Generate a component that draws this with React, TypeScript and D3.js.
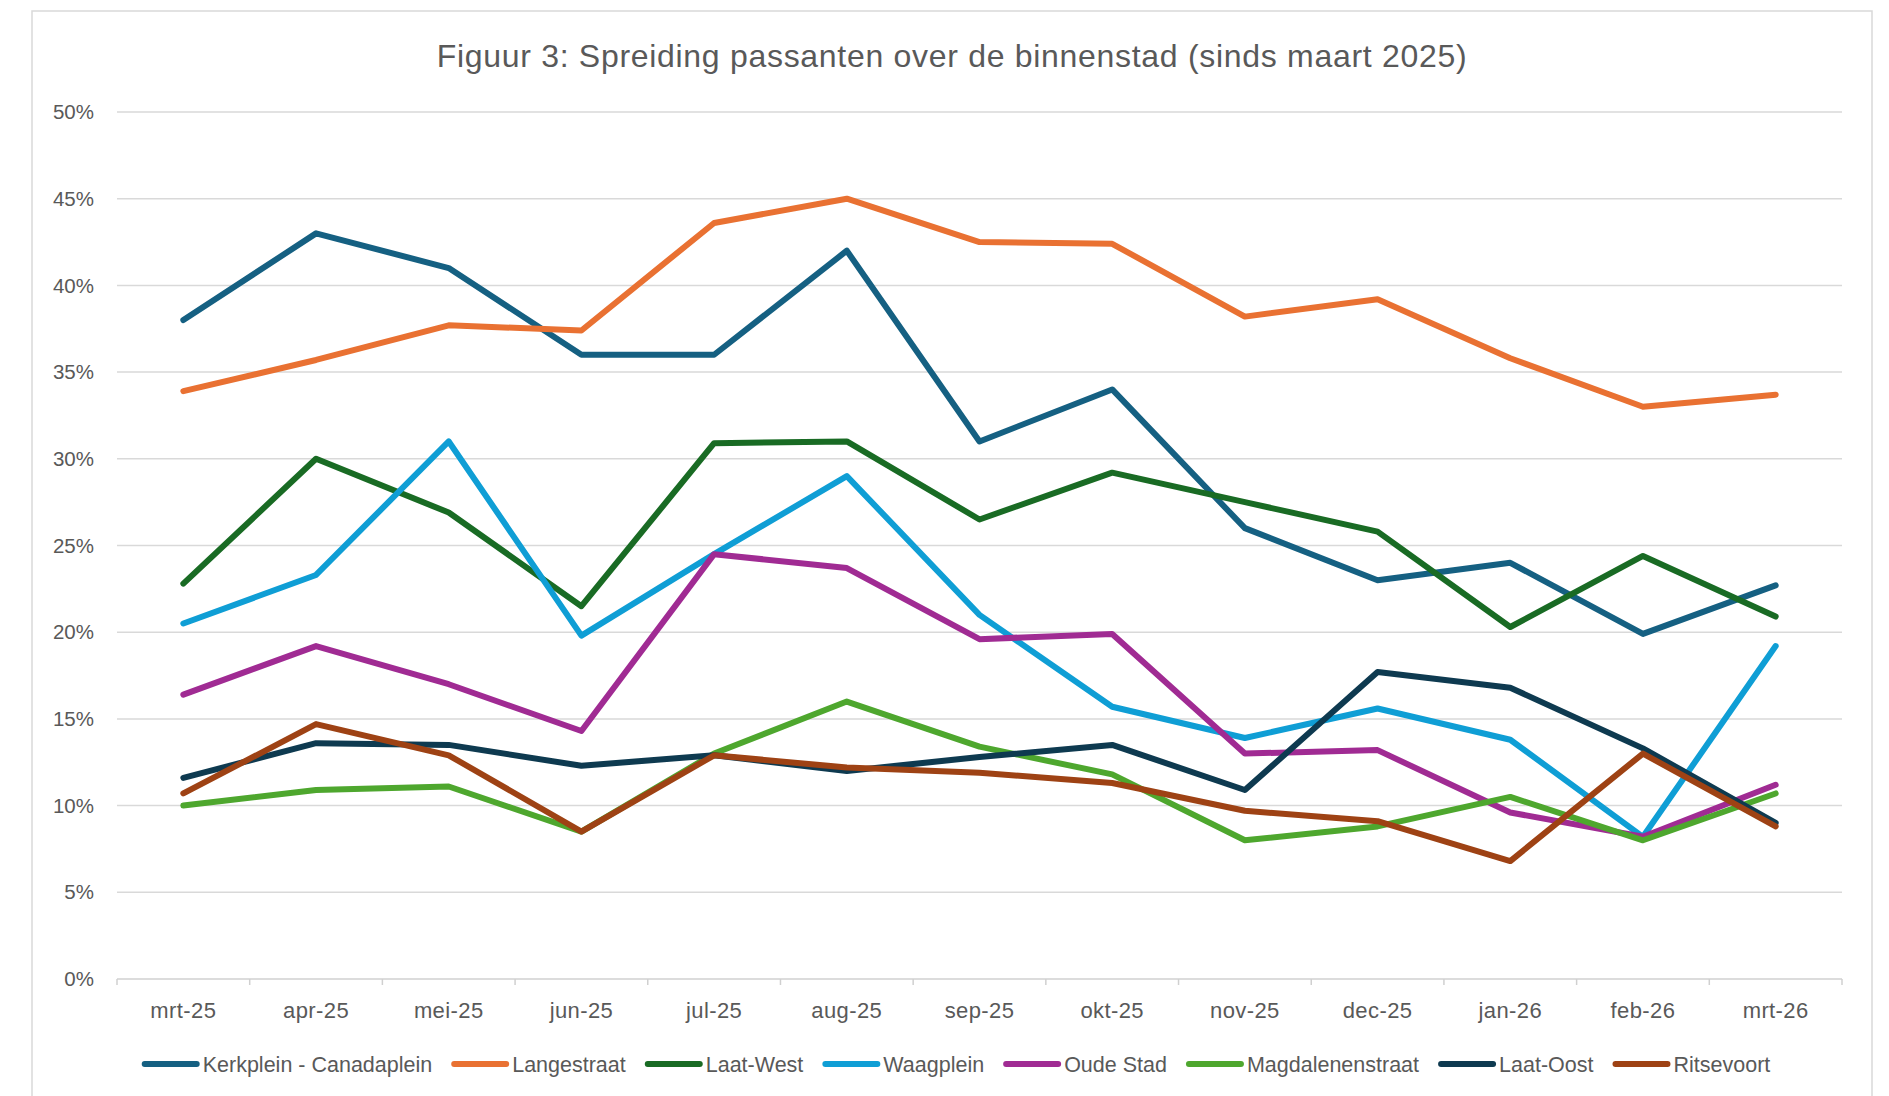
import React, { useEffect, useRef } from "react";
import * as d3 from "d3";

const months = ["mrt-25","apr-25","mei-25","jun-25","jul-25","aug-25","sep-25","okt-25","nov-25","dec-25","jan-26","feb-26","mrt-26"];
const yTicks = [0, 0.05, 0.1, 0.15, 0.2, 0.25, 0.3, 0.35, 0.4, 0.45, 0.5];

const kerkplein = [38.0, 43.0, 41.0, 36.0, 36.0, 42.0, 31.0, 34.0, 26.0, 23.0, 24.0, 19.9, 22.7];
const langestraat = [33.9, 35.7, 37.7, 37.4, 43.6, 45.0, 42.5, 42.4, 38.2, 39.2, 35.8, 33.0, 33.7];
const laatWest = [22.8, 30.0, 26.9, 21.5, 30.9, 31.0, 26.5, 29.2, 27.5, 25.8, 20.3, 24.4, 20.9];
const waagplein = [20.5, 23.3, 31.0, 19.8, 24.5, 29.0, 21.0, 15.7, 13.9, 15.6, 13.8, 8.2, 19.2];
const oudeStad = [16.4, 19.2, 17.0, 14.3, 24.5, 23.7, 19.6, 19.9, 13.0, 13.2, 9.6, 8.2, 11.2];
const magdalenenstraat = [10.0, 10.9, 11.1, 8.5, 13.0, 16.0, 13.4, 11.8, 8.0, 8.8, 10.5, 8.0, 10.7];
const laatOost = [11.6, 13.6, 13.5, 12.3, 12.9, 12.0, 12.8, 13.5, 10.9, 17.7, 16.8, 13.3, 9.0];
const ritsevoort = [10.7, 14.7, 12.9, 8.5, 12.9, 12.2, 11.9, 11.3, 9.7, 9.1, 6.8, 13.0, 8.8];

const seriesNames = ["Kerkplein - Canadaplein","Langestraat","Laat-West","Waagplein","Oude Stad","Magdalenenstraat","Laat-Oost","Ritsevoort"];
const seriesValues = [kerkplein, langestraat, laatWest, waagplein, oudeStad, magdalenenstraat, laatOost, ritsevoort];
const seriesColors = ["#156082","#E97132","#196B24","#0F9ED5","#A02B93","#4EA72E","#0E3A50","#9E4214"];

const title = "Figuur 3: Spreiding passanten over de binnenstad (sinds maart 2025)";

const W = 1889;
const H = 1096;
const FONT = "'Liberation Sans', Arial, sans-serif";
const TEXT = "#595959";

export default function App() {
  const ref = useRef<SVGSVGElement | null>(null);

  useEffect(() => {
    document.body.style.margin = "0";
    const svg = d3.select(ref.current);
    svg.selectAll("*").remove();

    const plotL = 117, plotR = 1842, plotT = 112, plotB = 979;
    const x = d3.scaleBand<string>().domain(months).range([plotL, plotR]).paddingInner(0).paddingOuter(0);
    const cx = (m: string) => (x(m) as number) + x.bandwidth() / 2;
    const y = d3.scaleLinear().domain([0, 0.5]).range([plotB, plotT]);

    svg.append("rect").attr("x", 0).attr("y", 0).attr("width", W).attr("height", H).attr("fill", "#fff");
    svg.append("rect").attr("x", 32).attr("y", 11).attr("width", 1840).attr("height", 1200)
      .attr("fill", "none").attr("stroke", "#d9d9d9").attr("stroke-width", 1.5);

    svg.append("text").attr("x", 952).attr("y", 67).attr("text-anchor", "middle")
      .attr("font-family", FONT).attr("font-size", 32).attr("letter-spacing", 0.7)
      .attr("fill", TEXT).text(title);

    const g = svg.append("g");
    yTicks.filter(t => t > 0).forEach(t => {
      g.append("line").attr("x1", plotL).attr("x2", plotR).attr("y1", y(t)).attr("y2", y(t))
        .attr("stroke", "#d9d9d9").attr("stroke-width", 1.5);
    });
    yTicks.forEach(t => {
      g.append("text").attr("x", 94).attr("y", y(t)).attr("dy", "0.35em").attr("text-anchor", "end")
        .attr("font-family", FONT).attr("font-size", 20.5).attr("fill", TEXT)
        .text(d3.format(".0%")(t));
    });
    g.append("line").attr("x1", plotL).attr("x2", plotR).attr("y1", plotB).attr("y2", plotB)
      .attr("stroke", "#d0d0d0").attr("stroke-width", 1.5);
    const boundaries = months.map(m => x(m) as number).concat([plotR]);
    boundaries.forEach(b => {
      g.append("line").attr("x1", b).attr("x2", b).attr("y1", plotB).attr("y2", plotB + 6)
        .attr("stroke", "#d0d0d0").attr("stroke-width", 1.5);
    });
    months.forEach(m => {
      g.append("text").attr("x", cx(m)).attr("y", 1018).attr("text-anchor", "middle")
        .attr("font-family", FONT).attr("font-size", 22).attr("letter-spacing", 0.4)
        .attr("fill", TEXT).text(m);
    });

    const line = d3.line<number>().x((_, i) => cx(months[i])).y(v => y(v / 100));
    seriesValues.forEach((vals, i) => {
      svg.append("path").attr("d", line(vals) as string).attr("fill", "none")
        .attr("stroke", seriesColors[i]).attr("stroke-width", 6)
        .attr("stroke-linejoin", "round").attr("stroke-linecap", "round");
    });

    const lg = svg.append("g");
    const lineLen = 52, gap1 = 6, gap2 = 19;
    const items = seriesNames.map((name, i) => {
      const t = lg.append("text").attr("font-family", FONT).attr("font-size", 21.5).attr("fill", TEXT)
        .attr("y", 1064).attr("dy", "0.35em").text(name);
      const w = (t.node() as SVGTextElement).getComputedTextLength();
      return { t, w, i };
    });
    const total = items.reduce((s, it) => s + 3 + lineLen + gap1 + it.w, 0) + gap2 * (items.length - 1);
    let pos = 956 - total / 2;
    items.forEach(it => {
      lg.append("line").attr("x1", pos + 3).attr("x2", pos + 3 + lineLen).attr("y1", 1064).attr("y2", 1064)
        .attr("stroke", seriesColors[it.i]).attr("stroke-width", 6).attr("stroke-linecap", "round");
      pos += 3 + lineLen + gap1;
      it.t.attr("x", pos);
      pos += it.w + gap2;
    });
  }, []);

  return <svg ref={ref} width={W} height={H} style={{ display: "block" }} />;
}
